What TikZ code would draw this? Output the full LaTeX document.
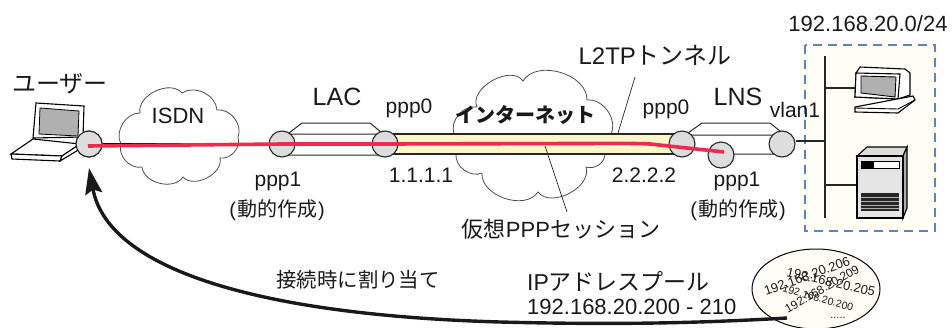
\documentclass[tikz,border=0pt]{standalone}
\usepackage{fontspec}
\usetikzlibrary{shapes.geometric,arrows.meta}
\setmainfont{Liberation Sans}
\newfontfamily\cjk{Noto Sans CJK JP}
\newcommand{\fsz}[1]{\fontsize{#1}{#1}\selectfont}
\newcommand{\dyn}{\fsz{20}(\hspace{1pt}{\cjk 動的作成}\hspace{1pt})}
\definecolor{ifgrey}{HTML}{DDDDDD}
\definecolor{cream}{HTML}{FFF7C8}
\definecolor{boxfill}{HTML}{FFFEF6}
\definecolor{boxedge}{HTML}{5F82BA}
\definecolor{redline}{HTML}{EE2A50}
\definecolor{scr}{HTML}{B0B0B0}
\tikzset{
 iface/.style={circle,draw=black!85,fill=ifgrey,line width=1.1pt,minimum size=26pt,inner sep=0pt},
 lbl/.style={inner sep=0pt,text=black!90},
 cloudline/.style={draw=black!70,line width=.8pt,fill=white},
 bodyline/.style={draw=black!85,line width=1pt},
 tunnelline/.style={draw=black!85,line width=1.3pt},
 leader/.style={draw=black!85,line width=.7pt},
 redrun/.style={draw=redline,line width=3.6pt},
 dev/.style={draw=black,line width=1.1pt},
}
\begin{document}
\begin{tikzpicture}[x=1pt,y=-1pt]
\useasboundingbox (0,0) rectangle (952,327);
% clouds
\draw[cloudline] (121,144) to[bend left=60] (140,113) to[bend left=75] (182,93) to[bend left=60] (217,110) to[bend left=60] (238,137) to[bend left=60] (220,158) to[bend left=75] (183,177) to[bend left=70] (142,167) to[bend left=60] (121,144);
\draw[cloudline] (454,134) to[bend left=60] (477,107) to[bend left=85] (523,81) to[bend left=75] (587,100) to[bend left=60] (611,134) to[bend left=40] (605,155) to[bend left=50] (586,167) to[bend left=80] (538,192) to[bend left=75] (482,173) to[bend left=60] (456,154) -- cycle;
% right network box
\draw[draw=boxedge,fill=boxfill,line width=1.1pt,dash pattern=on 9pt off 6pt] (805,45) rectangle (935,231);
% tunnel
\path[fill=cream] (385,134) rectangle (682,154);
\draw[tunnelline] (385,134) -- (682,134) (385,154) -- (682,154);
% LAC body
\draw[bodyline] (282,134) -- (385,134) (282,155) -- (385,155) (289,133) -- (302,123) -- (370,123) -- (382,133);
% LNS body
\draw[bodyline] (688,135) -- (782,135) (725,154) -- (782,154) (688,133) -- (702,123) -- (770,123) -- (780,131);
% interfaces
\node[iface] (user) at (89,144) {};
\node[iface] (lacin) at (282,144) {};
\node[iface] (lacout) at (385,144) {};
\node[iface] (lnsin) at (682,144) {};
\node[iface] (lnsppp) at (721,155) {};
\node[iface] (vlan) at (782,144) {};
% user link
\draw[draw=black,line width=1.1pt] (user) -- (lacin);
% network bus
\coordinate (bustop) at (825,56);
\coordinate (busbot) at (825,218);
\coordinate (busvlan) at (825,141);
\coordinate (buspc) at (825,88);
\coordinate (bussrv) at (825,185);
\coordinate (pcport) at (856,88);
\coordinate (srvport) at (858,185);
\draw[draw=black!85,line width=1.2pt] (bustop) -- (busbot) (vlan.east |- busvlan) -- (busvlan) (buspc) -- (pcport) (bussrv) -- (srvport);
% laptop
\draw[dev,fill=white] (36,103) -- (84,106) -- (83,137) -- (33,138) -- cycle;
\draw[line width=.8pt,draw=black,fill=scr] (40,108) -- (79,111) -- (78,136) -- (39,134) -- cycle;
\draw[dev,fill=white] (33,139) -- (11,154) -- (62,156) -- (80,144) -- cycle;
\draw[dev,fill=white] (11,154) -- (12,159) -- (60,161) -- (62,156) -- cycle;
\draw[dev,fill=white] (62,156) -- (60,161) -- (80,149) -- (80,144) -- cycle;
\node[iface] at (user) {};
% red session
\coordinate (redstart) at (88,146);
\coordinate (redmid) at (575,143.5);
\coordinate (redbend) at (650,144);
\coordinate (redend) at (724,152);
\draw[redrun] (redstart) -- (lacin.center) -- (lacout.center) -- (redmid) .. controls (605,143.5) and (630,143) .. (redbend) -- (redend);
% monitor
\draw[dev,fill=white] (860,67) -- (905,69) -- (910,73) -- (910,95) -- (898,99) -- (855,97) -- (856,73) -- cycle;
\draw[dev,fill=white] (856,73) -- (900,74) -- (898,99) -- (855,97) -- cycle;
\draw[line width=.9pt,fill=scr] (861,76) -- (896,77) -- (895,97) -- (861,93) -- cycle;
\draw[dev,fill=white] (855,107) -- (913,96) -- (915,100) -- (898,113) -- (855,112) -- cycle;
\draw[line width=.9pt] (855,108) -- (898,109) -- (915,100);
% server
\draw[dev,fill=ifgrey] (857,156) -- (867,147) -- (907,147) -- (903,156) -- cycle;
\draw[dev,fill=scr] (903,156) -- (907,147) -- (907,208) -- (903,218) -- cycle;
\draw[dev,fill=ifgrey!80!white] (857,156) rectangle (903,218);
\draw[line width=.8pt,fill=white] (861,161) rectangle (899,168);
\fill[black] (861,161) rectangle (874,168);
\fill[black!85] (861,193) rectangle (899,211);
\draw[scr,line width=.8pt] (861,197) -- (899,197) (861,201) -- (899,201) (861,205) -- (899,205) (861,208.5) -- (899,208.5);
% leaders
\coordinate (tunA) at (635,77);
\coordinate (tunB) at (618,133);
\coordinate (sesA) at (545,146);
\coordinate (sesB) at (567,212);
\draw[leader] (tunA) -- (tunB);
\draw[leader] (sesA) -- (sesB);
% pool
\node[ellipse,draw=black,fill=boxfill,line width=1pt,minimum width=128pt,minimum height=80pt,inner sep=0pt] (pool) at (816,289) {};
\node[lbl,rotate=20] (p206) at (807,276) {\fsz{13}192.168.20.206};
\node[lbl,rotate=30] (p209) at (822,289) {\fsz{12}192.168.20.209};
\node[lbl,rotate=-13] (p205) at (831,282) {\fsz{13}192.168.20.205};
\node[lbl,rotate=-16] (p200) at (818,298) {\fsz{10.5}192.168.20.200};
\node[lbl] (pdots) at (838,318) {\fsz{11}.....};
% pool arrow
\coordinate (arrowstart) at (787,318);
\coordinate (arrowtip) at (89,168);
\draw[draw=black!90,line width=3.4pt,-{Stealth[length=26pt,width=17pt,inset=4pt]}] (arrowstart) .. controls (700,323) and (620,325) .. (500,322) .. controls (260,315) and (108,270) .. (arrowtip);
% labels
\node[lbl] (tuser) at (60,84) {\fsz{24}\cjk ユーザー};
\node[lbl] (tisdn) at (178,116) {\fsz{22}ISDN};
\node[lbl] (tlac) at (337,97) {\fsz{25}LAC};
\node[lbl] (tppp0a) at (409,108) {\fsz{21}ppp0};
\node[lbl] (tppp1a) at (278,181) {\fsz{21}ppp1};
\node[lbl] (tdyna) at (277,210) {\dyn};
\node[lbl] (tip1) at (421,175) {\fsz{21}1.1.1.1};
\node[lbl] (tip2) at (644,175) {\fsz{21}2.2.2.2};
\node[lbl] (tl2tp) at (655,55) {\fsz{24}L2TP{\cjk トンネル}};
\node[lbl] (tnet) at (525,115) {\fsz{20}\cjk\bfseries インターネット};
\node[lbl] (tsess) at (561,229) {\fsz{22}{\cjk 仮想}PPP{\cjk セッション}};
\node[lbl] (tppp0b) at (666,109) {\fsz{21}ppp0};
\node[lbl] (tlns) at (738,97) {\fsz{25}LNS};
\node[lbl] (tvlan) at (795,110) {\fsz{21}vlan1};
\node[lbl] (tppp1b) at (737,181) {\fsz{21}ppp1};
\node[lbl] (tdynb) at (738,210) {\dyn};
\node[lbl] (tnetw) at (868,24) {\fsz{22}192.168.20.0/24};
\node[lbl] (tassign) at (358,280) {\fsz{20.4}\cjk 接続時に割り当て};
\node[lbl,anchor=west] (tpool) at (527,281) {\fsz{23}IP{\cjk アドレスプール}};
\node[lbl,anchor=west] (trange) at (527,307) {\fsz{22}192.168.20.200 - 210};
\end{tikzpicture}
\end{document}
